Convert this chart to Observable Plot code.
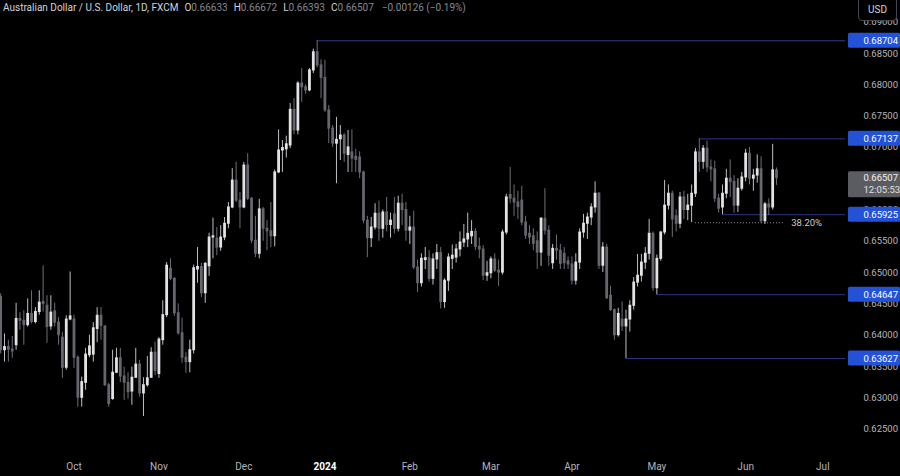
<!DOCTYPE html>
<html>
<head>
<meta charset="utf-8">
<script src="https://cdn.jsdelivr.net/npm/d3@7"></script>
<script src="https://cdn.jsdelivr.net/npm/@observablehq/plot@0.6"></script>
<style>
  html, body { margin: 0; padding: 0; background: #000; }
  #wrap { position: relative; width: 900px; height: 476px; overflow: hidden; background: #000;
          font-family: Roboto, "Liberation Sans", sans-serif; }
  #legend { position: absolute; left: 3px; top: 1px; font-size: 10px; line-height: 14px;
            color: #d1d4dc; white-space: nowrap; }
  #legend .k { margin-left: 6px; color: #d1d4dc; }
  #legend .v { color: #868993; }
  #legend .chg { margin-left: 8px; color: #868993; }
  #usd { position: absolute; left: 858px; top: -4px; width: 39px; height: 25px; box-sizing: border-box;
         border: 1px solid #434651; border-radius: 4px; background: #000; color: #d1d4dc;
         font-size: 10px; line-height: 25px; text-align: center; }
</style>
</head>
<body>
<div id="wrap"><div id="chart"></div><div id="legend"></div><div id="usd"></div></div>
<script>
// ---------- data ----------
const symbolName = "Australian Dollar / U.S. Dollar, 1D, FXCM";
const currency = "USD";
const countdown = "12:05:53";
const firstSession = "2023-09-05";
const lastCalendarDay = "2024-07-31";
const closedDays = ["2024-01-01"];

const opens = [
  0.6461,0.6376,0.6381,0.6377,0.6384,0.6426,0.6423,0.6416,0.6434,0.6421,
  0.6437,0.6453,0.6447,0.6414,0.6438,0.6420,0.6396,0.6348,0.6425,0.6425,
  0.6364,0.6300,0.6324,0.6368,0.6369,0.6410,0.6431,0.6414,0.6320,0.6298,
  0.6340,0.6363,0.6334,0.6324,0.6310,0.6332,0.6353,0.6307,0.6320,0.6332,
  0.6372,0.6338,0.6392,0.6432,0.6506,0.6490,0.6435,0.6403,0.6364,0.6357,
  0.6376,0.6505,0.6509,0.6467,0.6510,0.6556,0.6554,0.6540,0.6556,0.6578,
  0.6604,0.6647,0.6615,0.6604,0.6671,0.6618,0.6551,0.6530,0.6601,0.6570,
  0.6566,0.6558,0.6660,0.6695,0.6697,0.6703,0.6760,0.6727,0.6802,0.6796,
  0.6791,0.6823,0.6852,0.6831,0.6811,0.6759,0.6730,0.6706,0.6713,0.6719,
  0.6688,0.6692,0.6685,0.6684,0.6660,0.6583,0.6555,0.6572,0.6594,0.6570,
  0.6596,0.6576,0.6593,0.6570,0.6610,0.6600,0.6567,0.6572,0.6508,0.6483,
  0.6520,0.6523,0.6490,0.6521,0.6531,0.6453,0.6487,0.6522,0.6524,0.6537,
  0.6548,0.6553,0.6558,0.6565,0.6541,0.6537,0.6495,0.6499,0.6521,0.6503,
  0.6500,0.6564,0.6624,0.6618,0.6612,0.6615,0.6580,0.6562,0.6558,0.6550,
  0.6532,0.6586,0.6567,0.6515,0.6538,0.6535,0.6530,0.6518,0.6513,0.6487,
  0.6516,0.6564,0.6578,0.6588,0.6604,0.6626,0.6511,0.6540,0.6463,0.6440,
  0.6400,0.6425,0.6414,0.6425,0.6447,0.6484,0.6495,0.6516,0.6530,0.6562,
  0.6475,0.6522,0.6564,0.6607,0.6626,0.6590,0.6578,0.6620,0.6600,0.6607,
  0.6626,0.6692,0.6677,0.6698,0.6668,0.6665,0.6618,0.6604,0.6626,0.6650,
  0.6645,0.6607,0.6634,0.6652,0.6690,0.6650,0.6655,0.6665,0.6582,0.6609,
  0.6604,0.66633
];
const highs = [
  0.6466,0.6402,0.6392,0.6398,0.6451,0.6436,0.6439,0.6458,0.6471,0.6444,
  0.6471,0.6511,0.6463,0.6463,0.6451,0.6428,0.6404,0.6431,0.6501,0.6432,
  0.6367,0.6333,0.6379,0.6400,0.6420,0.6444,0.6444,0.6415,0.6323,0.6376,
  0.6379,0.6379,0.6349,0.6340,0.6349,0.6379,0.6360,0.6332,0.6366,0.6380,
  0.6389,0.6396,0.6455,0.6516,0.6522,0.6492,0.6450,0.6427,0.6372,0.6392,
  0.6512,0.6540,0.6515,0.6516,0.6563,0.6587,0.6572,0.6575,0.6588,0.6612,
  0.6666,0.6676,0.6628,0.6676,0.6690,0.6620,0.6590,0.6617,0.6604,0.6583,
  0.6612,0.6664,0.6728,0.6711,0.6718,0.6770,0.6778,0.6805,0.6826,0.6800,
  0.6826,0.6857,0.68704,0.6840,0.6839,0.6767,0.6735,0.6748,0.6735,0.6722,
  0.6727,0.6728,0.6697,0.6693,0.6662,0.6590,0.6588,0.6610,0.6614,0.6600,
  0.6620,0.6595,0.6620,0.6622,0.6625,0.6612,0.6590,0.6598,0.6520,0.6530,
  0.6540,0.6535,0.6530,0.6545,0.6540,0.6490,0.6530,0.6544,0.6545,0.6565,
  0.6577,0.6595,0.6583,0.6570,0.6555,0.6543,0.6518,0.6525,0.6530,0.6520,
  0.6568,0.6625,0.6668,0.6640,0.6630,0.6638,0.6590,0.6575,0.6570,0.6565,
  0.6588,0.6634,0.6575,0.6545,0.6560,0.6545,0.6540,0.6525,0.6525,0.6530,
  0.6570,0.6593,0.6595,0.6610,0.6645,0.6628,0.6548,0.6545,0.6478,0.6442,
  0.6443,0.6453,0.6440,0.6455,0.6492,0.6529,0.6529,0.6540,0.6585,0.6565,
  0.6528,0.6566,0.6647,0.6640,0.6630,0.6600,0.6628,0.6630,0.6625,0.6640,
  0.6698,0.67137,0.6703,0.6710,0.6680,0.6678,0.6625,0.6640,0.6665,0.6680,
  0.6655,0.6650,0.6660,0.6697,0.6700,0.6665,0.6688,0.6685,0.6612,0.6618,
  0.6705,0.66672
];
const lows = [
  0.6370,0.6357,0.6357,0.6363,0.6376,0.6408,0.6384,0.6413,0.6418,0.6418,
  0.6432,0.6437,0.6387,0.6408,0.6413,0.6384,0.6331,0.6344,0.6423,0.6347,
  0.6285,0.6285,0.6312,0.6364,0.6357,0.6388,0.6392,0.6318,0.6285,0.6296,
  0.6339,0.6324,0.6296,0.6298,0.6288,0.6331,0.6301,0.6270,0.6317,0.6331,
  0.6335,0.6331,0.6384,0.6428,0.6487,0.6430,0.6400,0.6355,0.6339,0.6340,
  0.6370,0.6483,0.6460,0.6451,0.6494,0.6522,0.6527,0.6534,0.6551,0.6570,
  0.6602,0.6612,0.6570,0.6602,0.6615,0.6546,0.6524,0.6522,0.6550,0.6535,
  0.6540,0.6541,0.6658,0.6660,0.6683,0.6698,0.6720,0.6720,0.6772,0.6785,
  0.6789,0.6818,0.6827,0.6778,0.6756,0.6706,0.6700,0.6642,0.6679,0.6676,
  0.6660,0.6660,0.6660,0.6650,0.6578,0.6524,0.6540,0.6568,0.6550,0.6555,
  0.6565,0.6555,0.6562,0.6565,0.6575,0.6550,0.6545,0.6505,0.6468,0.6477,
  0.6505,0.6485,0.6480,0.6505,0.6442,0.6443,0.6470,0.6505,0.6515,0.6525,
  0.6540,0.6540,0.6545,0.6535,0.6522,0.6487,0.6486,0.6490,0.6500,0.6478,
  0.6496,0.6560,0.6610,0.6590,0.6585,0.6575,0.6553,0.6545,0.6535,0.6505,
  0.6510,0.6560,0.6510,0.6505,0.6520,0.6505,0.6505,0.6505,0.6480,0.6480,
  0.6505,0.6555,0.6553,0.6575,0.6595,0.6505,0.6500,0.6457,0.6438,0.6392,
  0.6397,0.6406,0.63627,0.6405,0.6440,0.6477,0.6485,0.6505,0.6520,0.6470,
  0.64647,0.6518,0.6560,0.6600,0.6556,0.6565,0.6570,0.6585,0.6583,0.6580,
  0.6620,0.6660,0.6665,0.6660,0.6645,0.6612,0.6595,0.65925,0.6618,0.6620,
  0.6595,0.6596,0.6630,0.6645,0.6640,0.6630,0.6643,0.6578,0.6577,0.6591,
  0.6600,0.66393
];
const closes = [
  0.6376,0.6381,0.6377,0.6374,0.6426,0.6423,0.6416,0.6434,0.6421,0.6437,
  0.6452,0.6450,0.6413,0.6436,0.6420,0.6400,0.6348,0.6425,0.6430,0.6364,
  0.6300,0.6325,0.6369,0.6382,0.6411,0.6431,0.6415,0.6320,0.6290,0.6340,
  0.6363,0.6334,0.6324,0.6309,0.6332,0.6353,0.6307,0.6320,0.6331,0.6372,
  0.6343,0.6393,0.6432,0.6511,0.6490,0.6435,0.6403,0.6364,0.6357,0.6376,
  0.6507,0.6509,0.6467,0.6514,0.6556,0.6558,0.6540,0.6556,0.6578,0.6604,
  0.6647,0.6615,0.6604,0.6671,0.6618,0.6551,0.6530,0.6601,0.6570,0.6566,
  0.6558,0.6660,0.6695,0.6699,0.6705,0.6760,0.6727,0.6802,0.6796,0.6791,
  0.6823,0.6852,0.6831,0.6811,0.6759,0.6730,0.6706,0.6712,0.6719,0.6690,
  0.6700,0.6682,0.6680,0.6660,0.6583,0.6555,0.6572,0.6594,0.6570,0.6596,
  0.6576,0.6583,0.6570,0.6610,0.6600,0.6567,0.6572,0.6508,0.6483,0.6522,
  0.6523,0.6490,0.6521,0.6531,0.6453,0.6487,0.6524,0.6527,0.6537,0.6548,
  0.6553,0.6562,0.6565,0.6541,0.6537,0.6495,0.6499,0.6521,0.6503,0.6500,
  0.6564,0.6620,0.6618,0.6612,0.6605,0.6580,0.6559,0.6556,0.6546,0.6532,
  0.6586,0.6567,0.6527,0.6538,0.6535,0.6514,0.6515,0.6513,0.6487,0.6516,
  0.6564,0.6578,0.6588,0.6604,0.6626,0.6511,0.6540,0.6459,0.6440,0.6400,
  0.6434,0.6414,0.6425,0.6447,0.6484,0.6495,0.6516,0.6530,0.6562,0.6475,
  0.6522,0.6564,0.6607,0.6626,0.6585,0.6578,0.6620,0.6600,0.6607,0.6626,
  0.6692,0.6677,0.6698,0.6668,0.6665,0.6618,0.6602,0.6626,0.6650,0.6645,
  0.6607,0.6634,0.6652,0.6690,0.6650,0.6655,0.6665,0.6582,0.6609,0.6604,
  0.66633,0.66507
];

const monthLabels = ["Oct", "Nov", "Dec", "2024", "Feb", "Mar", "Apr", "May", "Jun", "Jul"];
const monthStarts = ["2023-10-02", "2023-11-01", "2023-12-01", "2024-01-02", "2024-02-01",
                     "2024-03-01", "2024-04-01", "2024-05-01", "2024-06-03", "2024-07-01"];
const yearLabels = ["2024"];
// 0.66500 sits fully behind the live-price tag in the reference, so it is not listed
const priceTicks = [0.625, 0.630, 0.635, 0.640, 0.645, 0.650, 0.655, 0.660,
                    0.670, 0.675, 0.680, 0.685, 0.690];
const levelPrices = [0.68704, 0.67137, 0.65925, 0.64647, 0.63627];
const fibRatio = 0.382;
const fibFrom = "2024-05-15";
const fibTo = "2024-06-17";

// ---------- derived ----------
const days = [];
for (let d = new Date(firstSession + "T00:00:00Z"); d <= new Date(lastCalendarDay + "T00:00:00Z");
     d.setUTCDate(d.getUTCDate() + 1)) {
  const wd = d.getUTCDay(), s = d.toISOString().slice(0, 10);
  if (wd !== 0 && wd !== 6 && !closedDays.includes(s)) days.push(s);
}
const dayIndex = s => days.indexOf(s);

const candles = opens.map((o, i) => ({
  i, o, h: highs[i], l: lows[i], c: closes[i],
  top: Math.max(o, closes[i]), bot: Math.min(o, closes[i]), up: closes[i] >= o
}));
const levels = levelPrices.map(p => {
  let a = highs.findIndex(v => v === p);
  if (a < 0) a = lows.findIndex(v => v === p);
  return {p, a};
});
// fib drawn from the May swing high to the April swing low
const swingHi = levelPrices[1];
const swingLo = levelPrices[4];
const fibPrice = swingHi - fibRatio * (swingHi - swingLo);
const fib = [{p: fibPrice, a: dayIndex(fibFrom), b: dayIndex(fibTo), label: (fibRatio * 100).toFixed(2) + "%"}];
const months = monthLabels.map((label, k) => ({label, i: dayIndex(monthStarts[k]), year: yearLabels.includes(label)}));
const n = closes.length - 1;
const last = [{p: closes[n]}];

const xFrom = -0.04, xTo = 218.87;
const upCol = "#e3e3e6", downCol = "#66676e";
const upWick = "#bdbec4", downWick = "#6e6f76";
const lineCol = "#2e3786", boxCol = "#2452d6", axisCol = "#b2b5be";

const chart = Plot.plot({
  width: 900, height: 476,
  marginTop: 0, marginBottom: 20, marginLeft: 0, marginRight: 55,
  style: {background: "#000", color: axisCol, fontFamily: "Roboto, 'Liberation Sans', sans-serif", overflow: "visible"},
  x: {domain: [xFrom, xTo], axis: null},
  y: {domain: [0.62062, 0.69347], axis: null},
  marks: [
    // right price axis labels
    Plot.text(priceTicks, {y: d => d, frameAnchor: "right", dx: 18, textAnchor: "start",
      text: d => d.toFixed(5), fill: axisCol, fontSize: 9.5}),
    // horizontal levels
    Plot.ruleY(levels, {y: "p", x1: "a", x2: () => xTo, stroke: lineCol, strokeWidth: 1}),
    // fib 38.2% dotted
    Plot.ruleY(fib, {y: "p", x1: "a", x2: "b", stroke: "#8a8c94", strokeWidth: 1, strokeDasharray: "1,2"}),
    Plot.text(fib, {x: "b", y: "p", text: "label", dx: 7, textAnchor: "start", fill: "#c9cbd1", fontSize: 9.5}),
    // candles
    Plot.ruleX(candles, {x: "i", y1: "l", y2: "h", stroke: d => d.up ? upWick : downWick, strokeWidth: 1}),
    Plot.ruleX(candles, {x: "i", y1: "top", y2: "bot", stroke: d => d.up ? upCol : downCol,
      strokeWidth: 2.8, insetTop: -0.5, insetBottom: -0.5}),
    // level label boxes
    Plot.rect(levels, {x1: () => xTo, x2: () => xTo, y1: "p", y2: "p", insetLeft: 3, insetRight: -55,
      insetTop: -7.5, insetBottom: -7.5, fill: boxCol, rx: 1.5}),
    Plot.text(levels, {y: "p", frameAnchor: "right", dx: 18, textAnchor: "start",
      text: d => d.p.toFixed(5), fill: "#ffffff", fontSize: 9.5}),
    // current price box
    Plot.rect(last, {x1: () => xTo, x2: () => xTo, y1: "p", y2: "p", insetLeft: 3, insetRight: -55,
      insetTop: -6.5, insetBottom: -19.5, fill: "#5b5c62", rx: 1.5}),
    Plot.text(last, {y: "p", frameAnchor: "right", dx: 18, textAnchor: "start",
      text: d => d.p.toFixed(5), fill: "#f0f0f0", fontSize: 9.5}),
    Plot.text(last, {y: "p", frameAnchor: "right", dx: 18, dy: 12, textAnchor: "start",
      text: () => countdown, fill: "#e0e0e0", fontSize: 9.5}),
    // time axis
    Plot.text(months.filter(m => !m.year), {x: "i", frameAnchor: "bottom", dy: 13, text: "label",
      fill: axisCol, fontSize: 10}),
    Plot.text(months.filter(m => m.year), {x: "i", frameAnchor: "bottom", dy: 13, text: "label",
      fill: "#ffffff", fontSize: 10, fontWeight: "bold"})
  ]
});
document.getElementById("chart").appendChild(chart);

// legend
const chg = closes[n] - closes[n - 1];
const pct = chg / closes[n - 1] * 100;
const fmt = v => (v < 0 ? "\u2212" : "+") + Math.abs(v).toFixed(5);
document.getElementById("legend").innerHTML =
  `<span>${symbolName}</span>` +
  `<span class="k">O</span><span class="v">${opens[n].toFixed(5)}</span>` +
  `<span class="k">H</span><span class="v">${highs[n].toFixed(5)}</span>` +
  `<span class="k">L</span><span class="v">${lows[n].toFixed(5)}</span>` +
  `<span class="k">C</span><span class="v">${closes[n].toFixed(5)}</span>` +
  `<span class="chg">${fmt(chg)} (${pct < 0 ? "\u2212" : "+"}${Math.abs(pct).toFixed(2)}%)</span>`;
document.getElementById("usd").textContent = currency;
</script>
</body>
</html>
